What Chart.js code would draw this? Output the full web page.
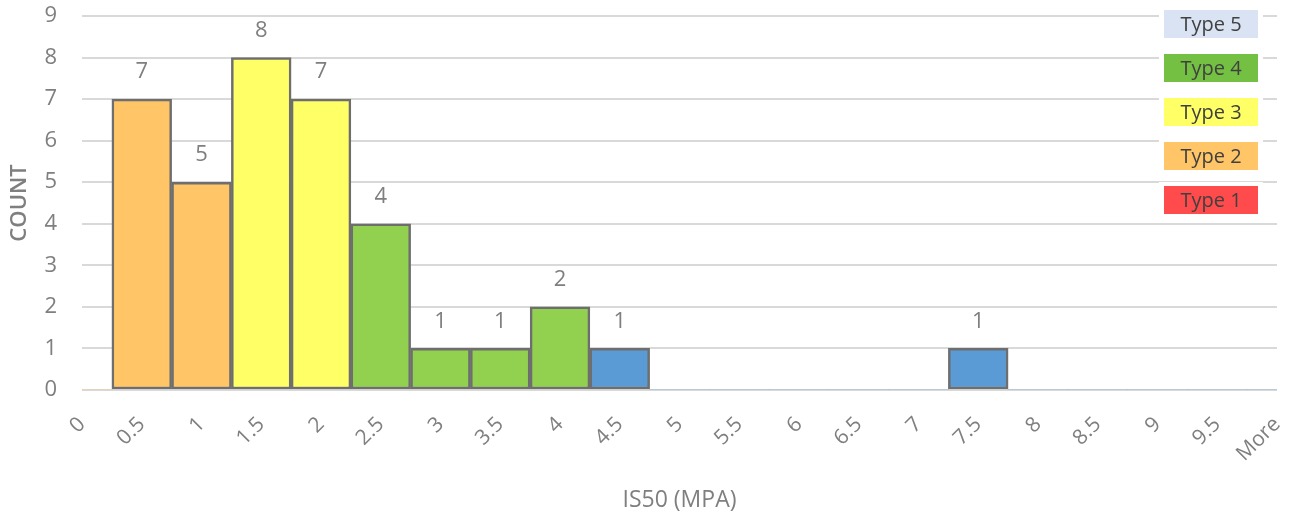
<!DOCTYPE html>
<html>
<head>
<meta charset="utf-8">
<script src="https://cdn.jsdelivr.net/npm/chart.js@4/dist/chart.umd.min.js"></script>
<style>
  html, body { margin: 0; padding: 0; background: #fff; overflow: hidden; }
  #wrap { width: 1291px; height: 515px; position: relative; }
</style>
</head>
<body>
<div id="wrap"><canvas id="c" width="1291" height="515"></canvas></div>
<script>
// Histogram bins (upper edges) and counts
const bins = ['0','0.5','1','1.5','2','2.5','3','3.5','4','4.5','5','5.5','6','6.5','7','7.5','8','8.5','9','9.5','More'];
const counts = [0, 7, 5, 8, 7, 4, 1, 1, 2, 1, 0, 0, 0, 0, 0, 1, 0, 0, 0, 0, 0];
const binColors = ['#FFC566','#FFC566','#FFC566','#FFFF66','#FFFF66','#92D050','#92D050','#92D050','#92D050','#5B9BD5',
                   '#5B9BD5','#5B9BD5','#5B9BD5','#5B9BD5','#5B9BD5','#5B9BD5','#5B9BD5','#5B9BD5','#5B9BD5','#5B9BD5','#5B9BD5'];

// Rock type key
const typeLabels = ['Type 5', 'Type 4', 'Type 3', 'Type 2', 'Type 1'];
const typeColors = ['#DAE3F3', '#74C043', '#FFFF66', '#FFC566', '#FF4B4B'];

const GRAY = '#7F7F7F';
const FONT = "'Open Sans', 'Noto Sans', sans-serif";

// Value labels above each non-empty bar
const valueLabels = {
  id: 'valueLabels',
  afterDatasetsDraw(chart) {
    const ctx = chart.ctx;
    const meta = chart.getDatasetMeta(0);
    ctx.save();
    ctx.font = '22px ' + FONT;
    ctx.fillStyle = GRAY;
    ctx.textAlign = 'center';
    ctx.textBaseline = 'middle';
    meta.data.forEach((bar, i) => {
      const v = counts[i];
      if (!v) return;
      ctx.fillText(String(v), bar.x, bar.y - 27);
    });
    ctx.restore();
  }
};

// Colour key boxes in the upper right
const typeKey = {
  id: 'typeKey',
  afterDraw(chart) {
    const ctx = chart.ctx;
    const x = 1164, w = 94, h = 28, y0 = 10, step = 44;
    ctx.save();
    ctx.font = '20px ' + FONT;
    ctx.textAlign = 'center';
    ctx.textBaseline = 'middle';
    typeLabels.forEach((lbl, i) => {
      const y = y0 + i * step;
      ctx.fillStyle = '#fff';
      ctx.fillRect(x - 5, y - 4, w + 10, h + 8);
      ctx.fillStyle = typeColors[i];
      ctx.fillRect(x, y, w, h);
      ctx.fillStyle = '#404040';
      ctx.fillText(lbl, x + w / 2, y + h / 2 + 1);
    });
    ctx.restore();
  }
};

new Chart(document.getElementById('c'), {
  type: 'bar',
  data: {
    labels: bins,
    datasets: [{
      data: counts,
      backgroundColor: binColors,
      borderColor: '#6E6E6E',
      borderWidth: ctx => (counts[ctx.dataIndex] ? 2.5 : 0),
      borderSkipped: false,
      barPercentage: 1,
      categoryPercentage: 1
    }]
  },
  options: {
    responsive: false,
    animation: false,
    events: [],
    layout: { padding: { top: 16, right: 14, left: 0, bottom: 0 } },
    plugins: { legend: { display: false }, tooltip: { enabled: false } },
    scales: {
      x: {
        offset: false,
        grid: { display: false, drawTicks: false },
        border: { display: false },
        ticks: {
          color: GRAY,
          font: { family: FONT, size: 21 },
          minRotation: 45,
          maxRotation: 45,
          autoSkip: false,
          padding: 22
        },
        title: {
          display: true,
          text: 'IS50 (MPA)',
          color: GRAY,
          font: { family: FONT, size: 23 },
          padding: { top: 0, bottom: 1 }
        },
        afterFit(scale) {
          scale.height = 125;
          scale.paddingLeft = 0;
          scale.paddingRight = 0;
        }
      },
      y: {
        min: 0,
        max: 9,
        grid: { color: '#D9D9D9', lineWidth: 2, drawTicks: false },
        border: { display: false },
        ticks: {
          stepSize: 1,
          color: GRAY,
          font: { family: FONT, size: 22 },
          padding: 25
        },
        title: {
          display: true,
          text: 'COUNT',
          color: GRAY,
          font: { family: FONT, size: 22, weight: '600' },
          padding: { top: 7, bottom: 0 }
        },
        afterFit(scale) {
          scale.width = 82;
          scale.paddingTop = 0;
          scale.paddingBottom = 0;
        }
      }
    }
  },
  plugins: [valueLabels, typeKey]
});
</script>
</body>
</html>
